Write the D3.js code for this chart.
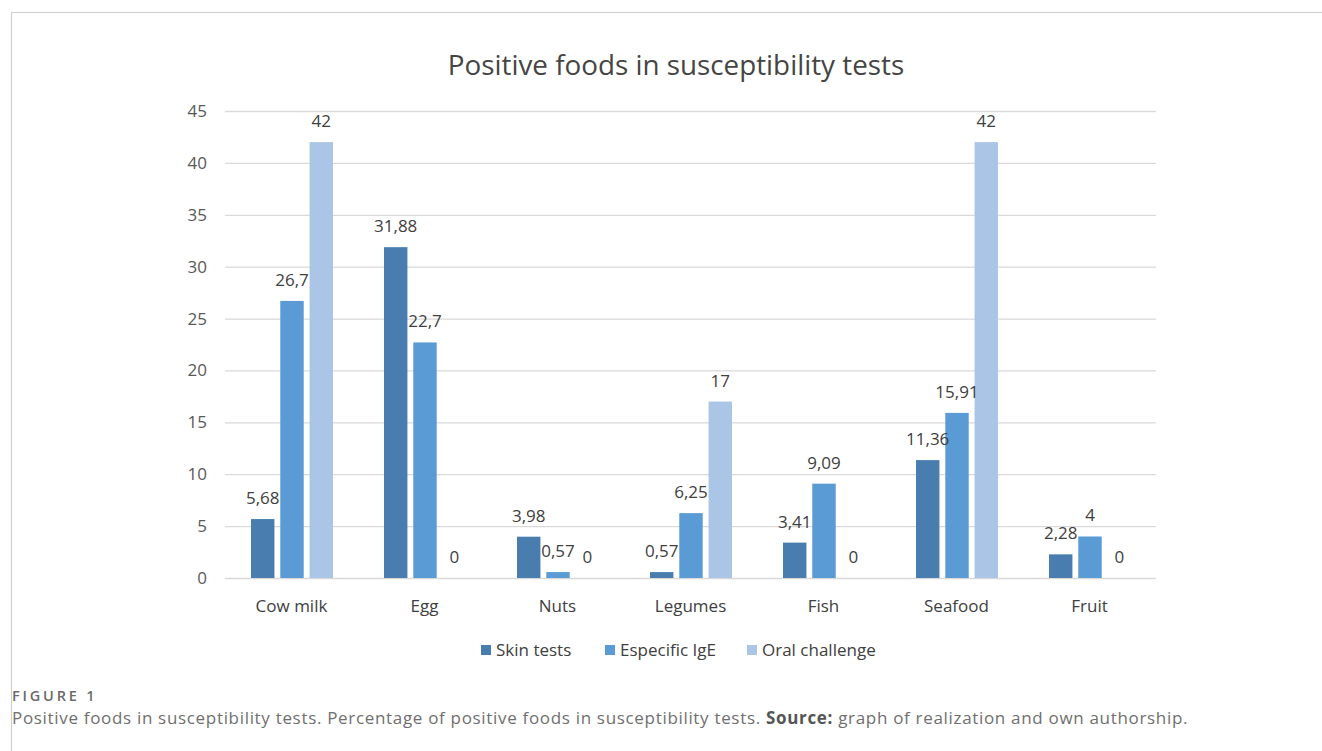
<!DOCTYPE html>
<html>
<head>
<meta charset="utf-8">
<script src="https://cdn.jsdelivr.net/npm/d3@7"></script>
<style>
  body { margin: 0; background: #fff; }
  svg { display: block; }
</style>
</head>
<body>
<div id="chart"></div>
<script>
// chart data
var foods = ["Cow milk", "Egg", "Nuts", "Legumes", "Fish", "Seafood", "Fruit"];
var seriesNames = ["Skin tests", "Especific IgE", "Oral challenge"];
var skinTests = [5.68, 31.88, 3.98, 0.57, 3.41, 11.36, 2.28];
var especificIgE = [26.7, 22.7, 0.57, 6.25, 9.09, 15.91, 4];
var oralChallenge = [42, 0, 0, 17, 0, 42, 0];
var yTicks = [0, 5, 10, 15, 20, 25, 30, 35, 40, 45];
var colors = ["#4a7daf", "#5b9bd5", "#aac5e6"];

var W = 1322, H = 751;
var margin = {top: 111, right: 166, bottom: 173, left: 225},
    width = W - margin.left - margin.right,
    height = H - margin.top - margin.bottom;

var svg = d3.select("#chart")
  .append("svg")
    .attr("width", W)
    .attr("height", H);

// figure frame (top and left border)
svg.append("line").attr("x1", 11).attr("x2", W).attr("y1", 12.5).attr("y2", 12.5)
  .attr("stroke", "#cfcfcf").attr("stroke-width", 1.2);
svg.append("line").attr("x1", 11.5).attr("x2", 11.5).attr("y1", 12).attr("y2", H)
  .attr("stroke", "#cfcfcf").attr("stroke-width", 1.2);

// title
svg.append("text")
  .attr("x", 676)
  .attr("y", 75)
  .attr("text-anchor", "middle")
  .style("font-family", "'Open Sans', sans-serif")
  .style("font-size", "27.8px")
  .style("fill", "#454545")
  .text("Positive foods in susceptibility tests");

var g = svg.append("g")
  .attr("transform", "translate(" + margin.left + "," + margin.top + ")");

var x = d3.scaleBand()
  .domain(foods)
  .range([0, width]);

var x1 = d3.scaleBand()
  .domain(seriesNames)
  .range([26, 108])
  .paddingInner(0.2);

var y = d3.scaleLinear()
  .domain([0, 45])
  .range([height, 0]);

// grid lines
g.append("g")
  .call(d3.axisLeft(y).tickValues(yTicks).tickSize(-width).tickFormat(""))
  .call(function(s) { s.select(".domain").remove(); })
  .selectAll("line")
    .attr("stroke", "#d9d9d9")
    .attr("stroke-width", 1.3);

// y tick labels
g.append("g")
  .selectAll("text")
  .data(yTicks)
  .enter()
  .append("text")
    .attr("x", -18)
    .attr("y", function(d) { return y(d); })
    .attr("dy", "0.35em")
    .attr("text-anchor", "end")
    .style("font-family", "'Open Sans', sans-serif")
    .style("font-size", "17px")
    .style("fill", "#595959")
    .text(function(d) { return d; });

// category labels
g.append("g")
  .selectAll("text")
  .data(foods)
  .enter()
  .append("text")
    .attr("x", function(d) { return x(d) + x.bandwidth() / 2; })
    .attr("y", height + 34)
    .attr("text-anchor", "middle")
    .style("font-family", "'Open Sans', sans-serif")
    .style("font-size", "17px")
    .style("fill", "#404040")
    .text(function(d) { return d; });

var allSeries = [skinTests, especificIgE, oralChallenge];
var rows = [];
foods.forEach(function(f, i) {
  allSeries.forEach(function(s, j) {
    rows.push({food: f, series: seriesNames[j], k: j, value: s[i]});
  });
});

// bars
g.selectAll("rect.bar")
  .data(rows)
  .enter()
  .append("rect")
    .attr("class", "bar")
    .attr("x", function(d) { return x(d.food) + x1(d.series); })
    .attr("y", function(d) { return y(d.value); })
    .attr("width", x1.bandwidth())
    .attr("height", function(d) { return height - y(d.value); })
    .attr("fill", function(d) { return colors[d.k]; });

// data labels
g.selectAll("text.lbl")
  .data(rows)
  .enter()
  .append("text")
    .attr("class", "lbl")
    .attr("x", function(d) { return x(d.food) + x1(d.series) + x1.bandwidth() / 2; })
    .attr("y", function(d) { return y(d.value) - 15; })
    .attr("text-anchor", "middle")
    .style("font-family", "'Open Sans', sans-serif")
    .style("font-size", "17px")
    .style("fill", "#404040")
    .text(function(d) { return String(d.value).replace(".", ","); });

// legend
var legendX = [481, 605, 747];
var legend = svg.append("g")
  .selectAll("g")
  .data(seriesNames)
  .enter()
  .append("g")
    .attr("transform", function(d, i) { return "translate(" + legendX[i] + ",650)"; });
legend.append("rect")
  .attr("x", 0).attr("y", -5)
  .attr("width", 10).attr("height", 10)
  .attr("fill", function(d, i) { return colors[i]; });
legend.append("text")
  .attr("x", 15)
  .attr("y", 0)
  .attr("dy", "0.35em")
  .style("font-family", "'Open Sans', sans-serif")
  .style("font-size", "17px")
  .style("fill", "#404040")
  .text(function(d) { return d; });

// caption
svg.append("text")
  .attr("x", 12).attr("y", 701)
  .style("font-family", "'Open Sans', sans-serif")
  .style("font-size", "14.5px")
  .style("font-weight", 600)
  .style("letter-spacing", "2.8px")
  .style("fill", "#6a6a6a")
  .text("FIGURE 1");

var cap = svg.append("text")
  .attr("x", 12).attr("y", 724)
  .style("font-family", "'Open Sans', sans-serif")
  .style("font-size", "17px")
  .style("letter-spacing", "0.68px")
  .style("fill", "#6f6f6f");
cap.append("tspan").text("Positive foods in susceptibility tests. Percentage of positive foods in susceptibility tests. ");
cap.append("tspan").style("font-weight", 700).style("fill", "#555").text("Source:");
cap.append("tspan").text(" graph of realization and own authorship.");
</script>
</body>
</html>
